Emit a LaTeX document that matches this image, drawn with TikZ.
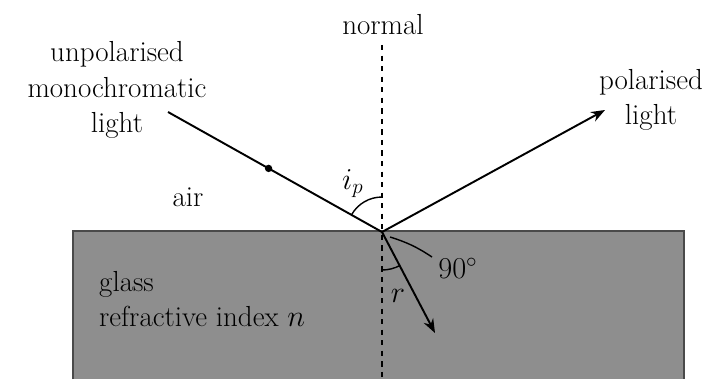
\documentclass[tikz,border=0pt]{standalone}
\usepackage{tikz}
\usetikzlibrary{positioning, arrows.meta, calc}
\definecolor{glassgrey}{HTML}{8E8E8E}
\definecolor{glassedge}{HTML}{4A4A4A}

\begin{document}
\begin{tikzpicture}[x=0.02cm, y=0.02cm, font=\fontsize{16.5}{20.3}\selectfont,
    ray/.style={line width=1.1pt},
    raytip/.style={ray, -{Stealth[length=8pt, width=6pt]}},
    anglemark/.style={line width=0.8pt}]
  \useasboundingbox (0,0) rectangle (712,379);
  % glass block
  \fill[glassgrey] (73,0) rectangle (684,148);
  \draw[glassedge, line width=1pt] (73,0) -- (73,148) -- (684,148) -- (684,0);
  % points
  \coordinate (O) at (382,147);
  \coordinate (src) at (168,267);
  \coordinate (refl) at (605,269);
  \coordinate (refr) at (435,46);
  \coordinate (ntop) at (382,334);
  \coordinate (nbot) at (382,0);
  \coordinate (m1) at (390,142);
  \coordinate (m2) at (432,122);
  % labels
  \node[align=center] (unpol) at (117,289) {unpolarised\\monochromatic\\light};
  \node (normal) at (383,354) {normal};
  \node[align=center] (pol) at (651,279) {polarised\\light};
  \node (air) at (188,182) {air};
  \node[align=left, anchor=west] (glass) at (93,80) {glass\\refractive index $n$};
  \node (ip) at ([shift={(121:1.13cm)}]O) {$i_p$};
  \node (r) at ([shift={(284:1.32cm)}]O) {$r$};
  \node (right) at (458,111) {$90^\circ$};
  % normal
  \draw[dashed, line width=0.8pt, dash pattern=on 3pt off 3pt] (ntop) -- (nbot);
  % rays
  \draw[ray] (src) -- (O);
  \fill ($(src)!0.47!(O)$) circle (2.1pt);
  \draw[raytip] (O) -- (refl);
  \draw[raytip] (O) -- (refr);
  % angles
  \draw[anglemark] ([shift={(90:0.7cm)}]O) arc[start angle=90, end angle=151, radius=0.7cm];
  \draw[anglemark] ([shift={(270:0.76cm)}]O) arc[start angle=270, end angle=298, radius=0.76cm];
  \draw[anglemark] (m1) to[bend left=8] (m2);
\end{tikzpicture}
\end{document}
